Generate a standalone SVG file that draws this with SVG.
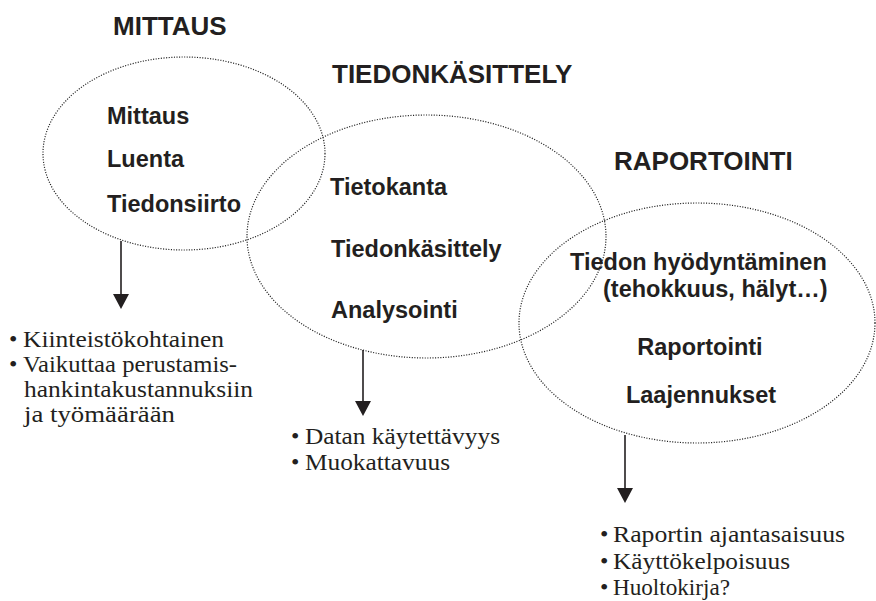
<svg xmlns="http://www.w3.org/2000/svg" width="876" height="601" viewBox="0 0 876 601">
  <style>
    .hdr { font-family: "Liberation Sans", Arial, sans-serif; font-weight: bold; font-size: 26px; fill: #231f20; }
    .lbl { font-family: "Liberation Sans", Arial, sans-serif; font-weight: bold; font-size: 23.5px; fill: #231f20; }
    .lst { font-family: "Liberation Serif", "Times New Roman", serif; font-size: 24px; fill: #231f20; }
    .ell { fill: none; stroke: #222; stroke-width: 1.2; stroke-dasharray: 1.1 1.5; }
    .arr { stroke: #231f20; stroke-width: 1.6; fill: none; marker-end: url(#head); }
  </style>
  <defs>
    <marker id="head" markerUnits="userSpaceOnUse" markerWidth="16" markerHeight="16" refX="7" refY="8" orient="auto">
      <path d="M0,0 L15,8 L0,16 Z" fill="#231f20"/>
    </marker>
  </defs>
  <rect width="876" height="601" fill="#fff"/>

  <g id="node-mittaus">
    <text class="hdr" x="113" y="35">MITTAUS</text>
    <ellipse class="ell" cx="184" cy="153.5" rx="141" ry="96.5"/>
    <text class="lbl" x="107" y="124">Mittaus</text>
    <text class="lbl" x="107" y="167">Luenta</text>
    <text class="lbl" x="107" y="212">Tiedonsiirto</text>
  </g>

  <g id="node-tiedonkasittely">
    <text class="hdr" x="332" y="83">TIEDONKÄSITTELY</text>
    <ellipse class="ell" cx="426.5" cy="236.5" rx="179.5" ry="121.5"/>
    <text class="lbl" x="330" y="195">Tietokanta</text>
    <text class="lbl" x="331" y="257">Tiedonkäsittely</text>
    <text class="lbl" x="331" y="318">Analysointi</text>
  </g>

  <g id="node-raportointi">
    <text class="hdr" x="614" y="170">RAPORTOINTI</text>
    <ellipse class="ell" cx="697" cy="323" rx="178" ry="120"/>
    <text class="lbl" x="570" y="270">Tiedon hyödyntäminen</text>
    <text class="lbl" x="603" y="297">(tehokkuus, hälyt…)</text>
    <text class="lbl" x="700" y="355" text-anchor="middle">Raportointi</text>
    <text class="lbl" x="701" y="403" text-anchor="middle">Laajennukset</text>
  </g>

  <g id="list-mittaus">
    <text class="lst" x="9" y="347">•</text>
    <text class="lst" x="23" y="347" textLength="201" lengthAdjust="spacingAndGlyphs">Kiinteistökohtainen</text>
    <text class="lst" x="9" y="372">•</text>
    <text class="lst" x="23" y="372" textLength="214" lengthAdjust="spacingAndGlyphs">Vaikuttaa perustamis-</text>
    <text class="lst" x="24" y="397" textLength="229" lengthAdjust="spacingAndGlyphs">hankintakustannuksiin</text>
    <text class="lst" x="24" y="422" textLength="151" lengthAdjust="spacingAndGlyphs">ja työmäärään</text>
  </g>

  <g id="list-tiedonkasittely">
    <text class="lst" x="291" y="444">•</text>
    <text class="lst" x="305" y="444" textLength="195" lengthAdjust="spacingAndGlyphs">Datan käytettävyys</text>
    <text class="lst" x="291" y="470">•</text>
    <text class="lst" x="305" y="470" textLength="145" lengthAdjust="spacingAndGlyphs">Muokattavuus</text>
  </g>

  <g id="list-raportointi">
    <text class="lst" x="600" y="542">•</text>
    <text class="lst" x="613" y="542" textLength="232" lengthAdjust="spacingAndGlyphs">Raportin ajantasaisuus</text>
    <text class="lst" x="600" y="569">•</text>
    <text class="lst" x="613" y="569" textLength="177" lengthAdjust="spacingAndGlyphs">Käyttökelpoisuus</text>
    <text class="lst" x="600" y="595">•</text>
    <text class="lst" x="613" y="595" textLength="117" lengthAdjust="spacingAndGlyphs">Huoltokirja?</text>
  </g>

  <g id="connectors">
    <line class="arr" x1="121" y1="241" x2="121" y2="301"/>
    <line class="arr" x1="363" y1="350" x2="363" y2="408"/>
    <line class="arr" x1="625" y1="435" x2="625" y2="495"/>
  </g>
</svg>
